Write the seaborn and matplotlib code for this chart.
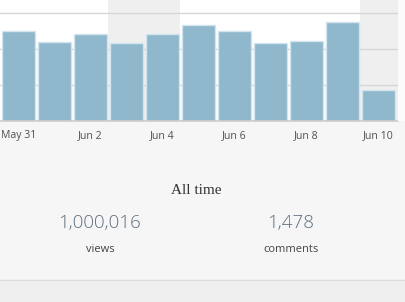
import matplotlib
matplotlib.use("Agg")
import matplotlib.pyplot as plt
import seaborn as sns
import pandas as pd
from matplotlib.patches import Rectangle

days = ["May 31", "Jun 1", "Jun 2", "Jun 3", "Jun 4", "Jun 5", "Jun 6",
        "Jun 7", "Jun 8", "Jun 9", "Jun 10"]
views = [2500, 2200, 2425, 2165, 2425, 2685, 2515, 2185, 2220, 2750, 860]
weekend_days = ["Jun 3", "Jun 4", "Jun 10"]
tick_labels = ["May 31", "", "Jun 2", "", "Jun 4", "", "Jun 6", "", "Jun 8", "", "Jun 10"]
grid_values = [1000, 2000, 3000]
total_views = "1,000,016"
total_comments = "1,478"

W, H = 406, 302
sns.set_theme(style="white")
plt.rcParams['font.family'] = ['Open Sans', 'DejaVu Sans']

fig = plt.figure(figsize=(W / 100, H / 100), dpi=100, facecolor="#f6f6f6")

def fx(x):
    return x / W

def fy(y):
    return 1 - y / H

# bottom strip
fig.patches.append(Rectangle((0, 0), 1, fy(280), transform=fig.transFigure,
                             facecolor="#efefef", edgecolor="none", zorder=0))
fig.lines.append(plt.Line2D([0, 1], [fy(280), fy(280)], transform=fig.transFigure,
                            color="#dcdcdc", lw=1, zorder=1))
# white strip on the right of the chart area
fig.patches.append(Rectangle((fx(398), fy(121.3)), 1 - fx(398), 1 - fy(121.3),
                             transform=fig.transFigure, facecolor="#fbfbfb",
                             edgecolor="none", zorder=0))

ax = fig.add_axes([0, fy(121.3), fx(398), 1 - fy(121.3)])
ax.set_facecolor("white")

df = pd.DataFrame({"day": days, "views": views})
ymax = 3000 + 13.3 / 36 * 1000

x0 = -0.5 - 0.5 / 36
x1 = x0 + 398 / 36
for d in weekend_days:
    i = days.index(d)
    right = i + 0.5 if i < len(days) - 1 else x1
    ax.axvspan(i - 0.5, right, color="#efefef", lw=0, zorder=0)

for g in grid_values:
    ax.axhline(g, color="#d6d6d6", lw=1, zorder=1)

sns.barplot(data=df, x="day", y="views", ax=ax, color="#8fb8cc",
            saturation=1, width=0.93, edgecolor="#d2e5ee", linewidth=1, zorder=2)

ax.set_xlim(x0, x1)
ax.set_ylim(0, ymax)
ax.set_xlabel("")
ax.set_ylabel("")
ax.set_yticks([])
ax.set_xticks(range(len(days)))
ax.set_xticklabels(tick_labels, fontsize=7.6, color="#505050")
ax.tick_params(axis="x", length=0, pad=6)
for s in ["top", "left", "right"]:
    ax.spines[s].set_visible(False)
ax.spines["bottom"].set_color("#cccccc")
ax.spines["bottom"].set_linewidth(1.2)

fig.text(fx(196), fy(190), "All time", ha="center", va="center",
         family=["Liberation Serif", "DejaVu Serif"], fontsize=11, color="#333333")
fig.text(fx(100), fy(223), total_views, ha="center", va="center",
         fontsize=13.5, fontweight="light", color="#5e6e7e")
fig.text(fx(291), fy(223), total_comments, ha="center", va="center",
         fontsize=13.5, fontweight="light", color="#5e6e7e")
fig.text(fx(100.5), fy(250), "views", ha="center", va="center",
         fontsize=8, color="#444444")
fig.text(fx(291.5), fy(250), "comments", ha="center", va="center",
         fontsize=8, color="#444444")

fig.savefig("out.png", dpi=100, facecolor=fig.get_facecolor())
